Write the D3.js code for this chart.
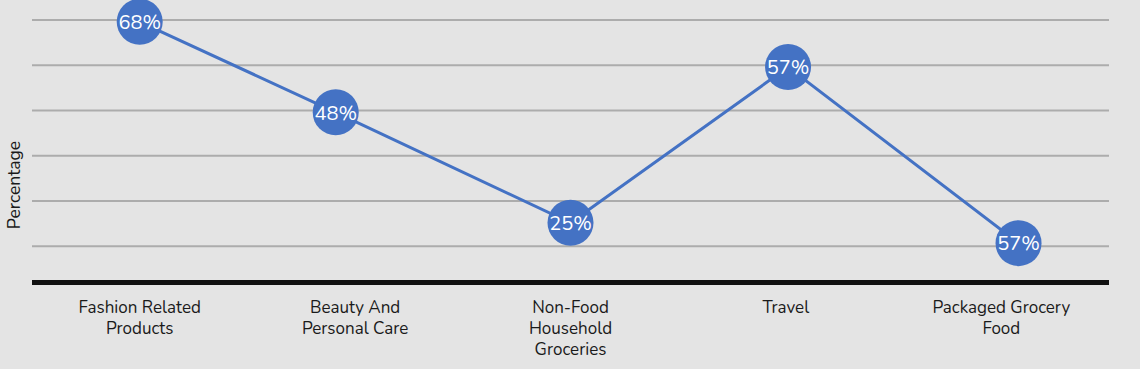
<!DOCTYPE html>
<html><head><meta charset="utf-8">
<script src="https://cdn.jsdelivr.net/npm/d3@7"></script>
<style>
html,body{margin:0;padding:0;background:#e4e4e4;}
svg{display:block;font-family:"Nunito","Lato","Open Sans",sans-serif;}
</style></head>
<body><svg id="c" width="1140" height="369"></svg>
<script>
// Data
const categories = ["Fashion Related Products","Beauty And Personal Care","Non-Food Household Groceries","Travel","Packaged Grocery Food"];
const categoryLines = [["Fashion Related","Products"],["Beauty And","Personal Care"],["Non-Food","Household","Groceries"],["Travel"],["Packaged Grocery","Food"]];
const valueLabels = ["68%","48%","25%","57%","57%"];
// plotted heights (gridlines at 20..70)
const plottedValues = [69.6, 49.6, 25.2, 59.6, 20.7];
// horizontal placement of each marker, in category units
const pointIndex = [0, 0.91, 2, 3.01, 4.08];
const gridTicks = [20, 30, 40, 50, 60, 70];

(function(){
const svg = d3.select("#c");
const plotLeft = 32, plotRight = 1109, plotTop = 20, baseY = 282.5;

const x = d3.scaleBand().domain(categories).range([plotLeft, plotRight]);
const xi = d3.scaleLinear().domain([0, 4]).range([x(categories[0]) + x.bandwidth()/2, x(categories[4]) + x.bandwidth()/2]);
const y = d3.scaleLinear().domain([12, 70]).range([baseY, plotTop]);

// gridlines
svg.append("g").selectAll("line").data(gridTicks).join("line")
  .attr("x1", plotLeft).attr("x2", plotRight)
  .attr("y1", d => y(d)).attr("y2", d => y(d))
  .attr("stroke", "#acacac").attr("stroke-width", 2);

// baseline
svg.append("line").attr("x1", plotLeft).attr("x2", plotRight).attr("y1", baseY).attr("y2", baseY)
  .attr("stroke", "#111").attr("stroke-width", 5);

// category labels
const lab = svg.append("g").selectAll("text").data(categories).join("text")
  .attr("text-anchor", "middle").attr("fill", "#1a1a1a").attr("font-size", 17)
  .attr("transform", d => `translate(${x(d) + x.bandwidth()/2},313)`);
lab.each(function(d, i){
  d3.select(this).selectAll("tspan").data(categoryLines[i]).join("tspan")
    .attr("x", 0).attr("dy", (t, j) => j === 0 ? 0 : 21).text(t => t);
});

// y title
svg.append("text").attr("transform", "translate(20,185) rotate(-90)")
  .attr("text-anchor", "middle").attr("font-size", 17.5).attr("fill", "#1a1a1a").text("Percentage");

// line
const pts = plottedValues.map((v, i) => [xi(pointIndex[i]), y(v)]);
svg.append("path").attr("d", d3.line()(pts)).attr("fill", "none")
  .attr("stroke", "#4472c4").attr("stroke-width", 3);

// markers
const g = svg.append("g").selectAll("g").data(pts).join("g")
  .attr("transform", d => `translate(${d[0]},${d[1]})`);
g.append("circle").attr("r", 23).attr("fill", "#4472c4");
g.append("text").attr("text-anchor", "middle").attr("dy", "0.36em")
  .attr("fill", "#fff").attr("font-size", 20).text((d, i) => valueLabels[i]);
})();
</script></body></html>
